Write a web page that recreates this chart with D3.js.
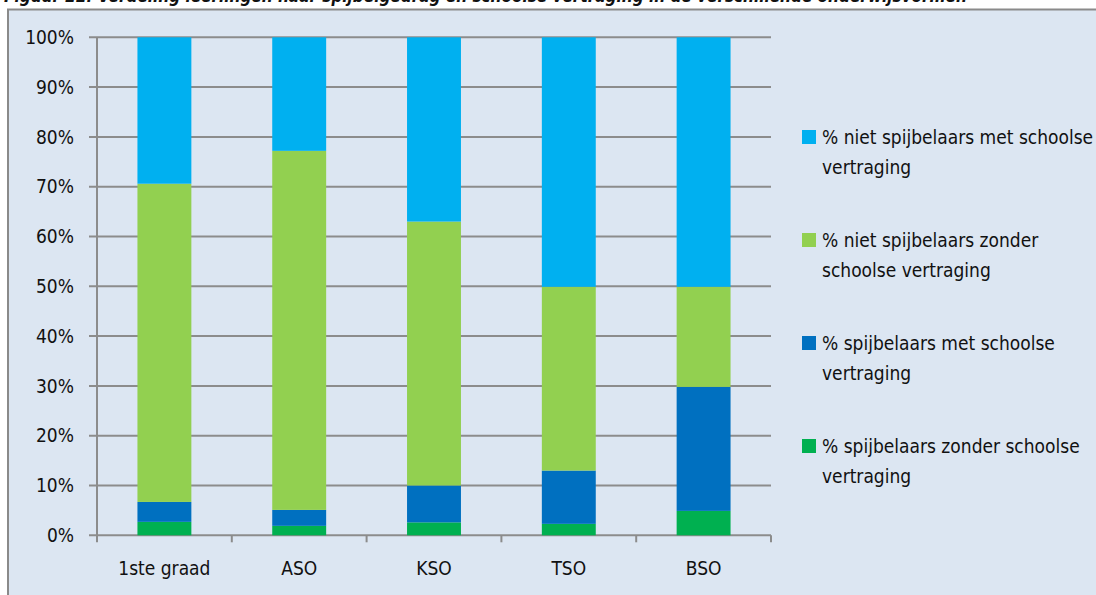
<!DOCTYPE html>
<html>
<head>
<meta charset="utf-8">
<script src="https://cdn.jsdelivr.net/npm/d3@7"></script>
<style>
  body { margin: 0; background: #fff; }
  text { font-family: "DejaVu Sans Condensed", "DejaVu Sans", sans-serif; font-stretch: condensed; fill: #111; }
</style>
</head>
<body>
<script>
// categorieen en reeksen (percentages, gelezen uit de figuur)
var categories = ["1ste graad", "ASO", "KSO", "TSO", "BSO"];
var spijbZonder = [2.7, 1.9, 2.6, 2.3, 4.9];
var spijbMet = [4.0, 3.2, 7.4, 10.7, 24.9];
var nietZonder = [63.9, 72.1, 53.0, 36.9, 20.1];
var nietMet = [29.4, 22.8, 37.0, 50.1, 50.1];
var yTicks = [0, 10, 20, 30, 40, 50, 60, 70, 80, 90, 100];
var seriesNames = [
  ["% niet spijbelaars met schoolse", "vertraging"],
  ["% niet spijbelaars zonder", "schoolse vertraging"],
  ["% spijbelaars met schoolse", "vertraging"],
  ["% spijbelaars zonder schoolse", "vertraging"]
];
var title = "Figuur 22: Verdeling leerlingen naar spijbelgedrag en schoolse vertraging in de verschillende onderwijsvormen";

var W = 1096, H = 595;
var colors = { sz: "#00b050", sm: "#0070c0", nz: "#92d050", nm: "#00b0f0" };

var svg = d3.select("body").append("svg")
  .attr("width", W).attr("height", H);

// titel (grotendeels buiten beeld, zoals in het origineel)
svg.append("text")
  .attr("x", 4).attr("y", 2)
  .attr("font-size", "17px").attr("font-weight", "bold").attr("font-style", "italic")
  .text(title);

// paneel
svg.append("rect")
  .attr("x", 8).attr("y", 9.5)
  .attr("width", W + 20).attr("height", H)
  .attr("fill", "#dce6f2")
  .attr("stroke", "#8a8a8a").attr("stroke-width", 2);

var pLeft = 97, pRight = 771, pTop = 37.3, pBottom = 535.3;

var x = d3.scaleBand().domain(categories).range([pLeft, pRight])
  .paddingInner(0.6).paddingOuter(0.3);
var y = d3.scaleLinear().domain([0, 100]).range([pBottom, pTop]);

// rasterlijnen
svg.selectAll("line.grid").data(yTicks).enter().append("line")
  .attr("class", "grid")
  .attr("x1", pLeft - 8).attr("x2", pRight)
  .attr("y1", function(d) { return y(d); })
  .attr("y2", function(d) { return y(d); })
  .attr("stroke", "#8c8c8c").attr("stroke-width", 2);

// y-as lijn
svg.append("line")
  .attr("x1", pLeft).attr("x2", pLeft)
  .attr("y1", pTop).attr("y2", pBottom + 7)
  .attr("stroke", "#8c8c8c").attr("stroke-width", 2);

// x-as tick marks (grenzen tussen categorieen)
var step = x.step();
var bounds = d3.range(1, categories.length + 1).map(function(i) { return pLeft + i * step; });
svg.selectAll("line.xt").data(bounds).enter().append("line")
  .attr("class", "xt")
  .attr("x1", function(d) { return d; }).attr("x2", function(d) { return d; })
  .attr("y1", pBottom).attr("y2", pBottom + 7)
  .attr("stroke", "#8c8c8c").attr("stroke-width", 2);

// y labels
svg.selectAll("text.yl").data(yTicks).enter().append("text")
  .attr("class", "yl")
  .attr("x", 74).attr("y", function(d) { return y(d); })
  .attr("dy", "0.35em")
  .attr("text-anchor", "end")
  .attr("font-size", "19px")
  .text(function(d) { return d + "%"; });

// x labels
svg.selectAll("text.xl").data(categories).enter().append("text")
  .attr("class", "xl")
  .attr("x", function(d) { return x(d) + x.bandwidth() / 2; })
  .attr("y", 568).attr("dy", "0.35em")
  .attr("text-anchor", "middle")
  .attr("font-size", "19px")
  .text(function(d) { return d; });

// gestapelde staven
var rows = categories.map(function(c, i) {
  return { cat: c, sz: spijbZonder[i], sm: spijbMet[i], nz: nietZonder[i], nm: nietMet[i] };
});
var keys = ["sz", "sm", "nz", "nm"];
var stacked = d3.stack().keys(keys)(rows);

svg.selectAll("g.layer").data(stacked).enter().append("g")
  .attr("class", "layer")
  .attr("fill", function(d) { return colors[d.key]; })
  .selectAll("rect").data(function(d) { return d; }).enter().append("rect")
  .attr("x", function(d) { return x(d.data.cat); })
  .attr("width", x.bandwidth())
  .attr("y", function(d) { return y(d[1]); })
  .attr("height", function(d) { return y(d[0]) - y(d[1]); });

// legenda
var legendKeys = ["nm", "nz", "sm", "sz"];
var leg = svg.selectAll("g.leg").data(legendKeys).enter().append("g")
  .attr("class", "leg")
  .attr("transform", function(d, i) { return "translate(802," + (137 + i * 103) + ")"; });
leg.append("rect")
  .attr("x", 0).attr("y", -7).attr("width", 14).attr("height", 14)
  .attr("fill", function(d) { return colors[d]; });
leg.each(function(d, i) {
  var g = d3.select(this);
  seriesNames[i].forEach(function(line, j) {
    g.append("text")
      .attr("x", 20).attr("y", j * 30).attr("dy", "0.35em")
      .attr("font-size", "19px")
      .text(line);
  });
});
</script>
</body>
</html>
